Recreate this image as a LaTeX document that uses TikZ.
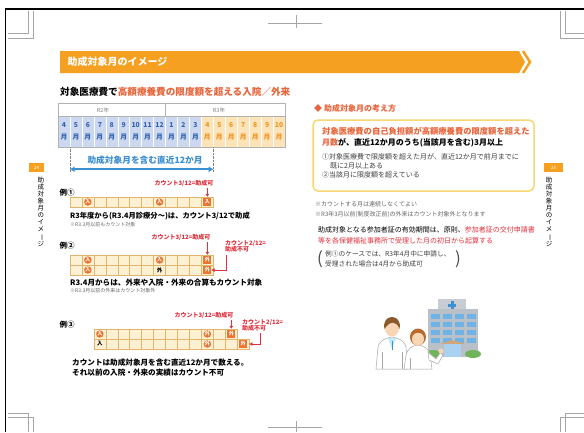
\documentclass[tikz,border=0pt]{standalone}
\usepackage{fontspec}
\setmainfont{Noto Sans CJK JP}
\usetikzlibrary{arrows.meta}

\definecolor{bannerorange}{HTML}{F5A020}
\definecolor{titlered}{HTML}{E8643A}
\definecolor{cellblue}{HTML}{CBD8EF}
\definecolor{digitblue}{HTML}{3564B0}
\definecolor{cellorange}{HTML}{FDE4B8}
\definecolor{digitorange}{HTML}{F29324}
\definecolor{rowfill}{HTML}{FDF1D3}
\definecolor{rowline}{HTML}{E3B56C}
\definecolor{markorange}{HTML}{EC7430}
\definecolor{alertred}{HTML}{E0303C}
\definecolor{spanblue}{HTML}{3D8FD1}
\definecolor{boxyellow}{HTML}{F6D774}
\definecolor{notegray}{HTML}{666666}
\definecolor{skin}{HTML}{F8D5B5}
\definecolor{hairbrown}{HTML}{8A5A2B}
\definecolor{hairorange}{HTML}{B86A30}
\definecolor{wallgray}{HTML}{B9C0C8}
\definecolor{winblue}{HTML}{6FB3E6}
\definecolor{bushgreen}{HTML}{6FB35A}

\begin{document}
\begin{tikzpicture}[x=1pt,y=-1pt,
  monthcell/.style={minimum width=11.95pt,minimum height=31pt,inner sep=0pt,align=center,
    draw=white,line width=0.5pt,font=\bfseries\fontsize{6.8}{12}\selectfont},
  cell/.style={draw=rowline,fill=rowfill,minimum width=11.95pt,minimum height=10pt,inner sep=0pt,line width=0.5pt},
  inmark/.style={circle,fill=markorange,text=white,inner sep=0pt,minimum size=7.5pt,font=\bfseries\fontsize{5}{5}\selectfont},
  sqmark/.style={fill=markorange,text=white,inner sep=0pt,minimum size=8pt,font=\bfseries\fontsize{5}{5}\selectfont},
  plainmark/.style={inner sep=0pt,font=\bfseries\fontsize{5.5}{5.5}\selectfont},
  alert/.style={text=alertred,inner sep=0pt,font=\bfseries\fontsize{6}{6.5}\selectfont},
  alertarrow/.style={alertred,line width=0.9pt,-{Triangle[length=3pt,width=3.5pt]}},
  caption/.style={anchor=west,inner sep=0pt,font=\bfseries\fontsize{7.6}{8}\selectfont},
  note/.style={anchor=west,inner sep=0pt,text=notegray,font=\fontsize{5}{5}\selectfont},
  example/.style={inner sep=0pt,font=\bfseries\fontsize{7.5}{8}\selectfont},
  sidetext/.style={anchor=north,inner sep=0pt,align=center,font=\fontsize{6.5}{7}\selectfont},
  crop/.style={gray!70,line width=0.4pt}]
\useasboundingbox (0,0) rectangle (584,432);
\fill[white] (0,0) rectangle (584,432);
\draw[line width=1.6pt] (5.5,432) -- (5.5,9) -- (584,9);

% crop marks
\draw[crop] (8,33) -- (28,33) -- (28,11);
\draw[crop] (8,38) -- (33,38) -- (33,11);
\draw[crop] (584,33) -- (565,33) -- (565,11);
\draw[crop] (584,38) -- (560,38) -- (560,11);
\draw[crop] (8,413) -- (28,413) -- (28,432);
\draw[crop] (8,417) -- (33,417) -- (33,432);
\draw[crop] (584,413) -- (565,413) -- (565,432);
\draw[crop] (584,417) -- (560,417) -- (560,432);
\draw[crop] (268,23.5) -- (322,23.5);
\draw[crop] (296,15) -- (296,28);
\draw[crop] (268,427) -- (322,427);
\draw[crop] (296,421) -- (296,432);

% banner
\fill[bannerorange] (60,51) -- (519,51) -- (525,62) -- (519,73) -- (60,73) -- cycle;
\draw[bannerorange,line width=2.5pt] (523,51) -- (530,62) -- (523,73);
\node[anchor=west,text=white,font=\bfseries\fontsize{10}{10}\selectfont] (banner) at (64,62) {助成対象月のイメージ};

% side tabs
\node[fill=bannerorange,text=white,minimum width=15pt,minimum height=9pt,inner sep=0pt,font=\fontsize{4.5}{4.5}\selectfont] (tabL) at (36.5,167.5) {24};
\node[sidetext] (sideL) at (41,177) {助\\成\\対\\象\\月\\の\\イ\\メ\\\rotatebox[origin=c]{-90}{ー}\\ジ};
\node[fill=bannerorange,text=white,minimum width=19pt,minimum height=9pt,inner sep=0pt,font=\fontsize{4.5}{4.5}\selectfont] (tabR) at (553.5,167.5) {25};
\node[sidetext] (sideR) at (549,177) {助\\成\\対\\象\\月\\の\\イ\\メ\\\rotatebox[origin=c]{-90}{ー}\\ジ};

\node[anchor=west,inner sep=0pt,font=\bfseries\fontsize{9.6}{10}\selectfont] (subtitle) at (60,92)
  {対象医療費で\textcolor{titlered}{高額療養費の限度額を超える入院／外来}};

% month grid
\foreach \m [count=\k from 0] in {4,5,6,7,8,9,10,11,12,1,2,3}
  \node[monthcell,fill=cellblue,text=digitblue] (mon\k) at ({58+11.95*(\k+0.5)},131.5) {\m\\月};
\foreach \m [count=\k from 12] in {4,5,6,7,8,9,10}
  \node[monthcell,fill=cellorange,text=digitorange] (mon\k) at ({58+11.95*(\k+0.5)},131.5) {\m\\月};
\draw[gray!60,line width=0.5pt] (mon0.north west |- 0,103) rectangle (mon18.south east);
\draw[gray!60,line width=0.5pt] (mon0.north west) -- (mon18.north east);
\draw[gray!60,line width=0.5pt] (mon9.north west) -- (mon9.north west |- 0,103);
\node[text=gray,font=\fontsize{5.5}{5.5}\selectfont] (yearR2) at (103,110) {R2年};
\node[text=gray,font=\fontsize{5.5}{5.5}\selectfont] (yearR3) at (219,110) {R3年};

\coordinate (spanL) at ([yshift=-22pt]mon1.south west);
\coordinate (spanR) at ([yshift=-22pt]mon12.south east);
\draw[gray,densely dotted] (mon1.south west) -- ([yshift=-3pt]spanL);
\draw[gray,densely dotted] (mon12.south east) -- ([yshift=-3pt]spanR);
\draw[spanblue,line width=2pt,{Latex[length=5pt,width=6pt]}-{Latex[length=5pt,width=6pt]}] (spanL) -- (spanR);
\node[text=spanblue,font=\bfseries\fontsize{8.7}{9}\selectfont] (spanlabel) at (145,160) {助成対象月を含む直近12か月};

% example 1
\node[example] (ex1) at (67,193) {例①};
\foreach \k in {1,...,12}
  \node[cell] (a\k) at ({58+11.95*(\k+0.5)},202) {};
\node[inmark] (a2m) at (a2) {入};
\node[inmark] (a8m) at (a8) {入};
\node[sqmark] (a12m) at (a12) {入};
\node[alert] (cap1) at (184,183) {カウント3/12=助成可};
\draw[alertarrow] (a12 |- cap1.south) ++(0,1.5) -- (a12.north);
\node[caption,font=\bfseries\fontsize{7.3}{8}\selectfont] (text1) at (70,216) {R3年度から(R3.4月診療分～)は、カウント3/12で助成};
\node[note] (note1) at (70,225) {※R3.3月以前もカウント対象};

% example 2
\node[example] (ex2) at (67,246) {例②};
\foreach \k in {1,...,12}{
  \node[cell] (b\k) at ({58+11.95*(\k+0.5)},260) {};
  \node[cell] (c\k) at ({58+11.95*(\k+0.5)},270) {};
}
\node[inmark] (b2m) at (b2) {入};
\node[inmark] (b8m) at (b8) {入};
\node[sqmark] (b12m) at (b12) {外};
\node[inmark] (c2m) at (c2) {入};
\node[plainmark] (c8m) at (c8) {外};
\node[sqmark] (c12m) at (c12) {外};
\node[alert] (cap2) at (181,237) {カウント3/12=助成可};
\draw[alertarrow] (b12 |- cap2.south) ++(0,1.5) -- (b12.north);
\node[alert,anchor=north west,align=left] (cap2b) at (225,240) {カウント2/12=\\助成不可};
\coordinate (bend2) at (226,255);
\draw[alertarrow] (bend2) |- (c12m.east);
\node[caption] (text2) at (70,283) {R3.4月からは、外来や入院・外来の合算もカウント対象};
\node[note] (note2) at (70,291) {※R3.3月以前の外来はカウント対象外};

% example 3
\node[example] (ex3) at (67,325) {例③};
\foreach \k in {3,...,14}
  \node[cell] (d\k) at ({58+11.95*(\k+0.5)},334) {};
\foreach \k in {3,...,15}
  \node[cell] (e\k) at ({58+11.95*(\k+0.5)},344) {};
\node[inmark] (d3m) at (d3) {入};
\node[inmark] (d12m) at (d12) {外};
\node[sqmark] (d14m) at (d14) {外};
\node[plainmark] (e3m) at (e3) {入};
\node[inmark] (e12m) at (e12) {外};
\node[sqmark] (e15m) at (e15) {外};
\node[alert] (cap3) at (204,315) {カウント3/12=助成可};
\draw[alertarrow] (d14 |- cap3.south) ++(0,1.5) -- (d14.north);
\node[alert,anchor=north west,align=left] (cap3b) at (242,319) {カウント2/12=\\助成不可};
\coordinate (bend3) at (260,333);
\draw[alertarrow] (bend3) |- (e15.east);
\node[caption] (text3) at (72,363) {カウントは助成対象月を含む直近12か月で数える。};
\node[caption] (text3b) at (72,373) {それ以前の入院・外来の実績はカウント不可};

% right column
\node[anchor=west,inner sep=0pt,text=titlered,font=\bfseries\fontsize{8}{8}\selectfont] (howto) at (314,108) {◆ 助成対象月の考え方};
\draw[boxyellow,line width=1.5pt,rounded corners=5pt] (313,120) rectangle (534,191);
\node[anchor=west,inner sep=0pt,text=titlered,font=\bfseries\fontsize{8.3}{9}\selectfont] (rule1) at (322,131)
  {対象医療費の自己負担額が高額療養費の限度額を超えた};
\node[anchor=west,inner sep=0pt,font=\bfseries\fontsize{8}{9}\selectfont] (rule2) at (322,143)
  {\textcolor{titlered}{月数}が、直近12か月のうち(当該月を含む)3月以上};
\node[anchor=west,inner sep=0pt,text=black!75,font=\fontsize{7}{8}\selectfont] (item1) at (322,157)
  {①対象医療費で限度額を超えた月が、直近12か月で前月までに};
\node[anchor=west,inner sep=0pt,text=black!75,font=\fontsize{7}{8}\selectfont] (item1b) at (330,166) {既に2月以上ある};
\node[anchor=west,inner sep=0pt,text=black!75,font=\fontsize{7}{8}\selectfont] (item2) at (322,175) {②当該月に限度額を超えている};

\node[note,font=\fontsize{6}{6}\selectfont] (note3) at (315,204) {※カウントする月は連続しなくてよい};
\node[note,font=\fontsize{6}{6}\selectfont] (note4) at (315,215) {※R3年3月以前(制度改正前)の外来はカウント対象外となります};

\node[anchor=west,inner sep=0pt,font=\fontsize{7}{7}\selectfont] (valid1) at (318,230)
  {助成対象となる参加者証の有効期間は、原則、\textcolor{alertred}{参加者証の交付申請書}};
\node[anchor=west,inner sep=0pt,text=alertred,font=\fontsize{7}{7}\selectfont] (valid2) at (318,241)
  {等を各保健福祉事務所で受理した月の初日から起算する};
\node[inner sep=0pt,text=black!70,font=\fontsize{17}{17}\selectfont] (parL) at (320,259) {(};
\node[inner sep=0pt,text=black!70,font=\fontsize{17}{17}\selectfont] (parR) at (458,259) {)};
\node[anchor=west,inner sep=0pt,text=black!75,font=\fontsize{6.7}{7}\selectfont] (case1) at (325,254)
  {例①のケースでは、R3年4月中に申請し、};
\node[anchor=west,inner sep=0pt,text=black!75,font=\fontsize{6.7}{7}\selectfont] (case2) at (325,264)
  {受理された場合は4月から助成可};

% hospital
\fill[wallgray!80] (438,299) rectangle (466,310);
\fill[spanblue] (450.5,301) rectangle (453.5,309);
\fill[spanblue] (448,303.5) rectangle (456,306.5);
\fill[wallgray] (428,309) rectangle (478,357);
\foreach \y in {314,322,330,338}
  \foreach \x in {431,443,455,467}
    \fill[winblue] (\x,\y) rectangle ++(9,5);
\fill[brown!70] (440,344) -- (452,340) -- (466,344) -- cycle;
\fill[winblue!60] (444,344) rectangle (461,357);
\fill[bushgreen] (433,354) ellipse (8 and 4);
\fill[bushgreen] (473,354) ellipse (8 and 4);

% doctors
\filldraw[fill=white,draw=gray!70,line width=0.5pt] (376,369) -- (378,347) .. controls (380,340) and (386,338) .. (392,337)
  .. controls (398,338) and (404,340) .. (406,347) -- (408,369) -- cycle;
\fill[cyan!25] (388,338) -- (396,338) -- (392,349) -- cycle;
\draw[spanblue,line width=1pt] (392,341) -- (392,350);
\draw[gray!70,line width=0.5pt] (382,352) -- (382,369) (402,352) -- (402,369);
\fill[skin] (392,328) ellipse (7 and 8.5);
\fill[hairbrown] (384.5,329) .. controls (381,313) and (403,313) .. (399.5,329) .. controls (397,321) and (390,320) .. (384.5,329) -- cycle;

\filldraw[fill=white,draw=gray!70,line width=0.5pt] (404,369) -- (406,355) .. controls (408,348) and (412,346) .. (418,345)
  .. controls (424,346) and (428,348) .. (430,354) -- (432,369) -- cycle;
\filldraw[fill=white,draw=gray!70,line width=0.5pt] (428,352) -- (436,359) -- (440,353) -- (443,355) -- (438,364) -- (429,360) -- cycle;
\fill[skin] (441,351) circle (2.6);
\fill[hairorange] (418,337) ellipse (8 and 8.5);
\fill[skin] (418,339) ellipse (6 and 6.8);
\fill[hairorange] (411.5,336) .. controls (412,328) and (424,328) .. (424.5,336) .. controls (420,331) and (415,332) .. (411.5,336) -- cycle;
\draw[gray!70,line width=0.5pt] (410,358) -- (410,369);
\end{tikzpicture}
\end{document}
